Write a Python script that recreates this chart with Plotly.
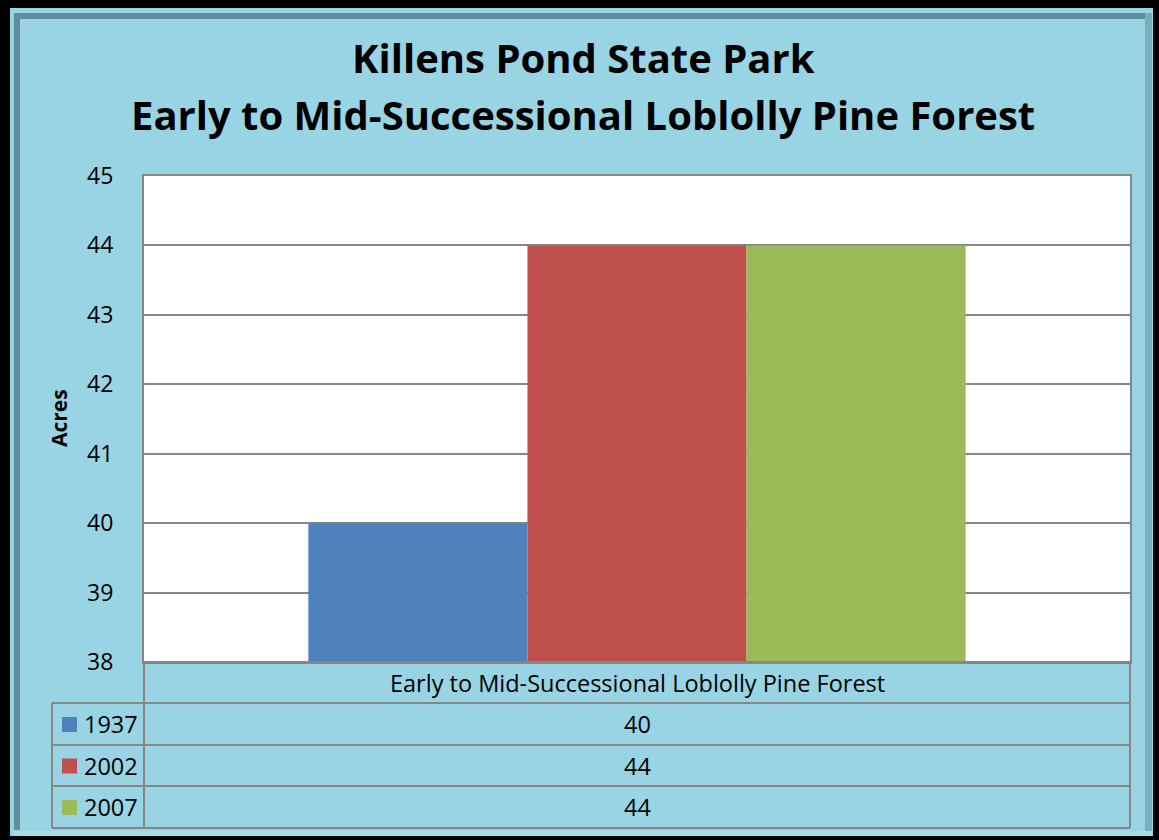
import plotly.graph_objects as go

W, H = 1159, 840
category = ["Early to Mid-Successional Loblolly Pine Forest"]
years = ["1937", "2002", "2007"]
values = [40, 44, 44]
colors = ["#4F81BD", "#C0504D", "#9BBB59"]
y_ticks = [38, 39, 40, 41, 42, 43, 44, 45]

BG = "#99D4E4"
GRID = "#868686"
FONT = "Open Sans"

def px(x):
    return x / W

def py(y):
    return 1 - y / H

# plot area in pixels
PL, PR, PT, PB = 144, 1130, 176, 662

fig = go.Figure()
for yr, v, c in zip(years, values, colors):
    fig.add_trace(go.Bar(x=category, y=[v], name=yr, marker=dict(color=c, line=dict(width=0)),
                         showlegend=False))

shapes = []
def rect(x0, x1, y0, y1, color, layer="below"):
    shapes.append(dict(type="rect", xref="paper", yref="paper", x0=px(x0), x1=px(x1), y0=py(y1), y1=py(y0),
                       fillcolor=color, line=dict(width=0), layer=layer))

# frame
rect(10, 1153, 8, 836, BG)
bevel_dark = "#5F8E9C"
bevel_mid = "#78AEBD"
rect(14, 20, 13, 830, bevel_dark)
rect(14, 1150, 13, 19, bevel_dark)
rect(1145, 1152, 13, 833, bevel_mid)
rect(20, 1145, 19, 830, BG)
rect(14, 1152, 831, 836, "#A8DCEA")
# plot area background
rect(PL, PR, PT, PB, "white")

# table lines
lc = dict(color=GRID, width=2)
row_y = [662, 703, 745, 786, 828]
for i, yy in enumerate(row_y):
    x0 = PL if i == 0 else 52
    shapes.append(dict(type="line", xref="paper", yref="paper", x0=px(x0), x1=px(PR), y0=py(yy), y1=py(yy), line=lc))
shapes.append(dict(type="line", xref="paper", yref="paper", x0=px(52), x1=px(52), y0=py(703), y1=py(828), line=lc))
shapes.append(dict(type="line", xref="paper", yref="paper", x0=px(PL), x1=px(PL), y0=py(662), y1=py(828), line=lc))
shapes.append(dict(type="line", xref="paper", yref="paper", x0=px(PR), x1=px(PR), y0=py(662), y1=py(828), line=lc))

annotations = []
annotations.append(dict(text=category[0], xref="paper", yref="paper", x=px((PL + PR) / 2), y=py(683),
                        showarrow=False, font=dict(family=FONT, size=23.5, color="black"),
                        xanchor="center", yanchor="middle"))
for i, (yr, v, c) in enumerate(zip(years, values, colors)):
    yc = (row_y[i + 1] + row_y[i + 2]) / 2
    shapes.append(dict(type="rect", xref="paper", yref="paper", x0=px(62), x1=px(77), y0=py(yc + 8), y1=py(yc - 7),
                       fillcolor=c, line=dict(width=0)))
    annotations.append(dict(text=yr, xref="paper", yref="paper", x=px(82), y=py(yc), showarrow=False,
                            font=dict(family=FONT, size=23.5, color="black"), xanchor="left", yanchor="middle"))
    annotations.append(dict(text=str(v), xref="paper", yref="paper", x=px((PL + PR) / 2), y=py(yc),
                            showarrow=False, font=dict(family=FONT, size=23.5, color="black"),
                            xanchor="center", yanchor="middle"))

annotations.append(dict(text="<b>Killens Pond State Park</b>", xref="paper", yref="paper", x=px(583), y=py(58),
                        showarrow=False, font=dict(family=FONT, size=40, color="black"), xanchor="center", yanchor="middle"))
annotations.append(dict(text="<b>Early to Mid-Successional Loblolly Pine Forest</b>", xref="paper", yref="paper",
                        x=px(583), y=py(115), showarrow=False, font=dict(family=FONT, size=40, color="black"),
                        xanchor="center", yanchor="middle"))
annotations.append(dict(text="<b>Acres</b>", xref="paper", yref="paper", x=px(59), y=py(418), textangle=-90,
                        showarrow=False, font=dict(family=FONT, size=21, color="black"),
                        xanchor="center", yanchor="middle"))

fig.update_layout(
    width=W, height=H,
    margin=dict(l=0, r=0, t=0, b=0, pad=0, autoexpand=False),
    paper_bgcolor="black",
    plot_bgcolor="white",
    barmode="group",
    bargap=1/3,
    bargroupgap=0,
    shapes=shapes,
    annotations=annotations,
    xaxis=dict(domain=[px(PL), px(PR)], showticklabels=False, showgrid=False, zeroline=False, automargin=False,
               showline=True, linecolor=GRID, linewidth=2, mirror=True, fixedrange=True),
    yaxis=dict(domain=[py(PB), py(PT)], range=[38, 45], tickvals=y_ticks, showgrid=True, gridcolor=GRID,
               gridwidth=1.5, zeroline=False, showline=True, linecolor=GRID, linewidth=2, mirror=True,
               automargin=False, ticks="", ticklabelstandoff=24,
               tickfont=dict(family=FONT, size=23, color="black")),
    showlegend=False,
)

fig.write_html("out.html")
